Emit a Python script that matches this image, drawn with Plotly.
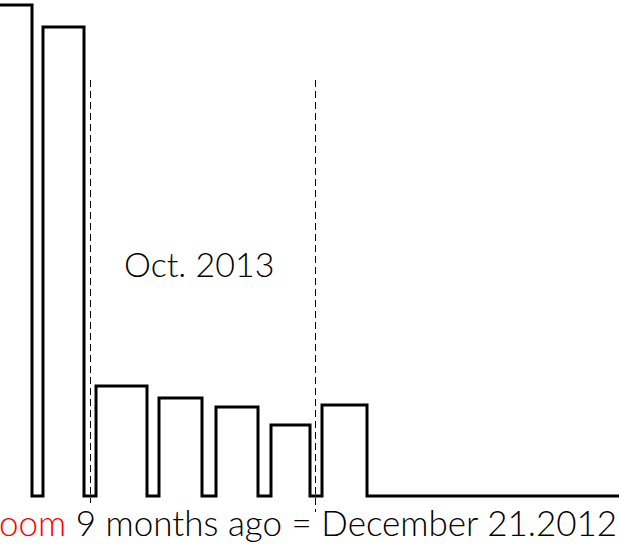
import plotly.graph_objects as go

# Bar periods (left/right edges) and heights, in chart units
bar_left = [-30, 43, 96, 159, 216, 271, 322]
bar_right = [32, 84, 147, 202, 258, 310, 367]
heights = [491, 469, 110, 98, 89, 71, 91]
end_x = 640

# Dashed marker lines: x position and lower end
marker_x = [90.5, 315.5]
marker_top = [416, 416]
marker_bottom = [-7, -16]

label_mid = "Oct. 2013"
bottom_red = "oom"
bottom_black = " 9 months ago = December 21.2012"

# Build outline path
xs, ys = [bar_left[0]], [heights[0]]
for i, (l, r, h) in enumerate(zip(bar_left, bar_right, heights)):
    if i > 0:
        xs += [l, l]
        ys += [0, h]
    xs += [r, r]
    ys += [h, 0]
xs.append(end_x)
ys.append(0)

fig = go.Figure()
for mx, mt, mb in zip(marker_x, marker_top, marker_bottom):
    fig.add_trace(go.Scatter(x=[mx, mx], y=[mt, mb], mode="lines",
                             line=dict(color="black", width=1, dash="7px,4px"),
                             hoverinfo="skip", showlegend=False))
fig.add_trace(go.Scatter(x=xs, y=ys, mode="lines",
                         line=dict(color="black", width=3),
                         hoverinfo="skip", showlegend=False, cliponaxis=False))

fig.add_annotation(x=199, y=233, xref="x", yref="y", text=label_mid,
                   showarrow=False,
                   font=dict(family="Lato", size=34, color="black", weight=300),
                   xanchor="center", yanchor="middle")
fig.add_annotation(x=-3 / 619, y=27 / 549, xref="paper", yref="paper",
                   text=f"<span style='color:#ff0000'>{bottom_red}</span>{bottom_black}",
                   showarrow=False,
                   font=dict(family="Lato", size=35, color="black", weight=300),
                   xanchor="left", yanchor="middle")

fig.update_layout(width=619, height=549, margin=dict(l=0, r=0, t=0, b=0),
                  paper_bgcolor="white", plot_bgcolor="white",
                  xaxis=dict(range=[0, 619], visible=False, fixedrange=True),
                  yaxis=dict(range=[-53, 496], visible=False, fixedrange=True))
fig.write_html("out.html", config={"displayModeBar": False},
               post_script="document.body.style.margin='0';document.body.style.overflow='hidden';")
